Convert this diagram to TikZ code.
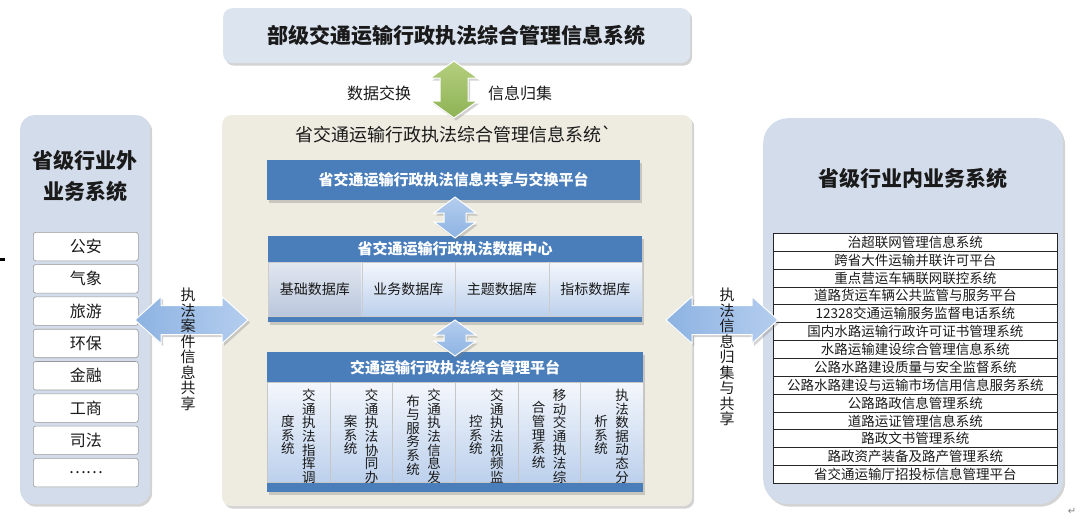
\documentclass[tikz,border=0pt]{standalone}
\usepackage{fontspec}
\setmainfont{Noto Sans CJK SC}
\newfontfamily\symfont{DejaVu Sans}
\newfontfamily\plainfont[Ligatures=ResetAll]{Noto Sans CJK SC}
\usetikzlibrary{shadows}
\definecolor{topfill}{HTML}{DCE4F0}
\definecolor{sidefill}{HTML}{D3DCEA}
\definecolor{midfill}{HTML}{EEECE1}
\definecolor{barblue}{HTML}{4A7EBB}
\definecolor{arrblue}{HTML}{8DB3E2}
\definecolor{arrblueL}{HTML}{B4CDEE}
\definecolor{greenD}{HTML}{8DB255}
\definecolor{greenL}{HTML}{B5CF7E}
\definecolor{cellT}{HTML}{F4F7FC}
\definecolor{cellB}{HTML}{BCD0EC}
\definecolor{cellGT}{HTML}{E2E7F0}
\definecolor{cellGB}{HTML}{B9C6DB}
\definecolor{txt}{HTML}{1A1A1A}
\tikzset{
  panel/.style={rectangle, inner sep=0pt, anchor=north west},
  shad/.style={drop shadow={shadow xshift=2pt,shadow yshift=-2.5pt,opacity=0.35}},
  topbox/.style={panel, rounded corners=9pt, fill=topfill, shad, text=txt, font=\bfseries\fontsize{21}{24}\selectfont},
  midbox/.style={panel, rounded corners=9pt, fill=midfill, shad},
  sidebox/.style={panel, fill=sidefill, shad},
  bar/.style={panel, fill=barblue, shad, text=white, font=\bfseries\fontsize{15}{17}\selectfont},
  bartext/.style={text=white, inner sep=0pt, font=\bfseries\fontsize{15}{17}\selectfont},
  dbcell/.style={panel, top color=cellT, bottom color=cellB, draw=gray!40, line width=0.4pt, text=txt, font=\fontsize{14}{16}\selectfont},
  pcell/.style={panel, top color=cellT, bottom color=cellB, draw=gray!45, line width=0.4pt},
  vcol/.style={inner sep=0pt, align=center, text=txt, font=\fontsize{13.5}{13.6}\selectfont},
  sidetitle/.style={inner sep=0pt, align=center, text=txt, font=\bfseries\fontsize{21}{31}\selectfont},
  item/.style={panel, rounded corners=2.5pt, fill=white, draw=gray!80, line width=0.6pt, text=txt, font=\fontsize{16}{18}\selectfont},
  listrow/.style={panel, fill=white, draw=black!85, line width=0.6pt, text=txt, font=\fontsize{13.5}{15}\selectfont},
  plain/.style={inner sep=0pt, text=txt},
  vlabel/.style={inner sep=0pt, align=center, text=txt, font=\fontsize{15}{15.5}\selectfont},
  bluearrow/.style={left color=arrblue, right color=arrblueL, draw=white, line width=1pt, shad},
  bluevarrow/.style={top color=arrblueL, bottom color=arrblue, draw=white, line width=1pt, shad},
  greenarrow/.style={top color=greenL, bottom color=greenD, draw=white, line width=1pt, shad},
}
% vertical double block arrow: style, cx, ytop, ybot, head half width, shaft half width, head length
\newcommand\myVArrow[7]{%
  \path[#1] (#2,#3) -- ({#2+#5},{#3+#7}) -- ({#2+#6},{#3+#7}) -- ({#2+#6},{#4-#7})
    -- ({#2+#5},{#4-#7}) -- (#2,#4) -- ({#2-#5},{#4-#7}) -- ({#2-#6},{#4-#7})
    -- ({#2-#6},{#3+#7}) -- ({#2-#5},{#3+#7}) -- cycle;}
% horizontal double block arrow: style, cy, xleft, xright, head half height, shaft half height, head length
\newcommand\myHArrow[7]{%
  \path[#1] (#3,#2) -- ({#3+#7},{#2-#5}) -- ({#3+#7},{#2-#6}) -- ({#4-#7},{#2-#6})
    -- ({#4-#7},{#2-#5}) -- (#4,#2) -- ({#4-#7},{#2+#5}) -- ({#4-#7},{#2+#6})
    -- ({#3+#7},{#2+#6}) -- ({#3+#7},{#2+#5}) -- cycle;}
\begin{document}
\begin{tikzpicture}[x=1pt,y=-1pt]
\useasboundingbox (0,0) rectangle (1080,520);

% small mark at the left edge
\fill[black] (0,257.5) rectangle (5,260.5);

% top box
\node[topbox, minimum width=467pt, minimum height=55pt] (top) at (223,8) {部级交通运输行政执法综合管理信息系统};

% middle container
\node[midbox, minimum width=470pt, minimum height=391pt] (mid) at (222,115) {};
\node[plain, font=\plainfont\fontsize{18}{20}\selectfont] (midtitle) at (454,134) {省交通运输行政执法综合管理信息系统`};

% exchange platform bar
\node[bar, minimum width=373pt, minimum height=40pt] (xchg) at (267,160) {省交通运输行政执法信息共享与交换平台};

% data center
\node[bar, minimum width=374pt, minimum height=86pt] (dc) at (268,236) {};
\node[bartext] (dctitle) at (455,249) {省交通运输行政执法数据中心};
\node[dbcell, top color=cellGT, bottom color=cellGB, minimum width=93.5pt, minimum height=54pt] (db1) at (268,262) {基础数据库};
\node[dbcell, minimum width=93.5pt, minimum height=54pt] (db2) at (361.5,262) {业务数据库};
\node[dbcell, minimum width=93.5pt, minimum height=54pt] (db3) at (455,262) {主题数据库};
\node[dbcell, minimum width=93.5pt, minimum height=54pt] (db4) at (548.5,262) {指标数据库};

% integrated management platform
\node[bar, minimum width=376pt, minimum height=140pt] (plat) at (267,352) {};
\node[bartext] (plattitle) at (455,368) {交通运输行政执法综合管理平台};
\node[pcell, minimum width=62.67pt, minimum height=100pt] (pc1) at (267,382) {};
\node[pcell, minimum width=62.67pt, minimum height=100pt] (pc2) at (329.67,382) {};
\node[pcell, minimum width=62.67pt, minimum height=100pt] (pc3) at (392.33,382) {};
\node[pcell, minimum width=62.67pt, minimum height=100pt] (pc4) at (455,382) {};
\node[pcell, minimum width=62.67pt, minimum height=100pt] (pc5) at (517.67,382) {};
\node[pcell, minimum width=62.67pt, minimum height=100pt] (pc6) at (580.33,382) {};
\begin{scope}
  \clip (267,382) rectangle (643,482);
  \node[vcol, anchor=north] (pc1r) at (308.8,389) {交\\通\\执\\法\\指\\挥\\调};
  \node[vcol] (pc1l) at (287.8,435) {度\\系\\统};
  \node[vcol, anchor=north] (pc2r) at (371.5,389) {交\\通\\执\\法\\协\\同\\办};
  \node[vcol] (pc2l) at (350.5,435) {案\\系\\统};
  \node[vcol, anchor=north] (pc3r) at (434.2,389) {交\\通\\执\\法\\信\\息\\发};
  \node[vcol] (pc3l) at (413.2,435) {布\\与\\服\\务\\系\\统};
  \node[vcol, anchor=north] (pc4r) at (496.8,389) {交\\通\\执\\法\\视\\频\\监};
  \node[vcol] (pc4l) at (475.8,435) {控\\系\\统};
  \node[vcol, anchor=north] (pc5r) at (559.5,389) {移\\动\\交\\通\\执\\法\\综};
  \node[vcol] (pc5l) at (538.5,435) {合\\管\\理\\系\\统};
  \node[vcol, anchor=north] (pc6r) at (622.2,389) {执\\法\\数\\据\\动\\态\\分};
  \node[vcol] (pc6l) at (601.2,435) {析\\系\\统};
\end{scope}

% left panel
\node[sidebox, rounded corners=14pt, minimum width=130pt, minimum height=389pt] (left) at (20,115) {};
\node[sidetitle] (lefttitle) at (85,176) {省级行业外\\业务系统};
\node[item, minimum width=105pt, minimum height=28.5pt] (i1) at (33,232) {公安};
\node[item, minimum width=105pt, minimum height=28.5pt] (i2) at (33,264.3) {气象};
\node[item, minimum width=105pt, minimum height=28.5pt] (i3) at (33,296.6) {旅游};
\node[item, minimum width=105pt, minimum height=28.5pt] (i4) at (33,328.9) {环保};
\node[item, minimum width=105pt, minimum height=28.5pt] (i5) at (33,361.2) {金融};
\node[item, minimum width=105pt, minimum height=28.5pt] (i6) at (33,393.5) {工商};
\node[item, minimum width=105pt, minimum height=28.5pt] (i7) at (33,425.8) {司法};
\node[item, minimum width=105pt, minimum height=28.5pt] (i8) at (33,458.1) {……};

% right panel
\node[sidebox, rounded corners=25pt, minimum width=300pt, minimum height=386pt] (right) at (763,118) {};
\node[plain, font=\bfseries\fontsize{21}{24}\selectfont] (righttitle) at (913,178) {省级行业内业务系统};
\node[listrow, minimum width=284pt, minimum height=17.86pt] (r1) at (773,233) {治超联网管理信息系统};
\node[listrow, minimum width=284pt, minimum height=17.86pt] (r2) at (773,250.86) {跨省大件运输并联许可平台};
\node[listrow, minimum width=284pt, minimum height=17.86pt] (r3) at (773,268.72) {重点营运车辆联网联控系统};
\node[listrow, minimum width=284pt, minimum height=17.86pt] (r4) at (773,286.58) {道路货运车辆公共监管与服务平台};
\node[listrow, minimum width=284pt, minimum height=17.86pt] (r5) at (773,304.44) {12328交通运输服务监督电话系统};
\node[listrow, minimum width=284pt, minimum height=17.86pt] (r6) at (773,322.30) {国内水路运输行政许可证书管理系统};
\node[listrow, minimum width=284pt, minimum height=17.86pt] (r7) at (773,340.16) {水路运输建设综合管理信息系统};
\node[listrow, minimum width=284pt, minimum height=17.86pt] (r8) at (773,358.02) {公路水路建设质量与安全监督系统};
\node[listrow, minimum width=284pt, minimum height=17.86pt] (r9) at (773,375.88) {公路水路建设与运输市场信用信息服务系统};
\node[listrow, minimum width=284pt, minimum height=17.86pt] (r10) at (773,393.74) {公路路政信息管理系统};
\node[listrow, minimum width=284pt, minimum height=17.86pt] (r11) at (773,411.60) {道路运证管理信息系统};
\node[listrow, minimum width=284pt, minimum height=17.86pt] (r12) at (773,429.46) {路政文书管理系统};
\node[listrow, minimum width=284pt, minimum height=17.86pt] (r13) at (773,447.32) {路政资产装备及路产管理系统};
\node[listrow, minimum width=284pt, minimum height=17.86pt] (r14) at (773,465.18) {省交通运输厅招投标信息管理平台};

% block arrows
\myVArrow{greenarrow}{454}{61}{118}{23.5}{14}{17}
\myVArrow{bluevarrow}{455}{197}{238}{21}{11}{16}
\myVArrow{bluevarrow}{455}{320}{356}{21}{11}{15}
\myHArrow{bluearrow}{320}{135}{248}{23.5}{14.5}{26}
\myHArrow{bluearrow}{320}{666}{778}{23.5}{14.5}{26}

% arrow labels
\node[plain, font=\fontsize{16}{18}\selectfont] (lblx) at (379,93) {数据交换};
\node[plain, font=\fontsize{16}{18}\selectfont] (lbly) at (520,93) {信息归集};
\node[vlabel, anchor=north] (lbll) at (188,288) {执\\法\\案\\件\\信\\息\\共\\享};
\node[vlabel, anchor=north] (lblr) at (727,288) {执\\法\\信\\息\\归\\集\\与\\共\\享};

% paragraph mark
\node[plain, text=gray, font=\symfont\fontsize{10}{10}\selectfont] (ret) at (1072,511) {↵};
\end{tikzpicture}
\end{document}
